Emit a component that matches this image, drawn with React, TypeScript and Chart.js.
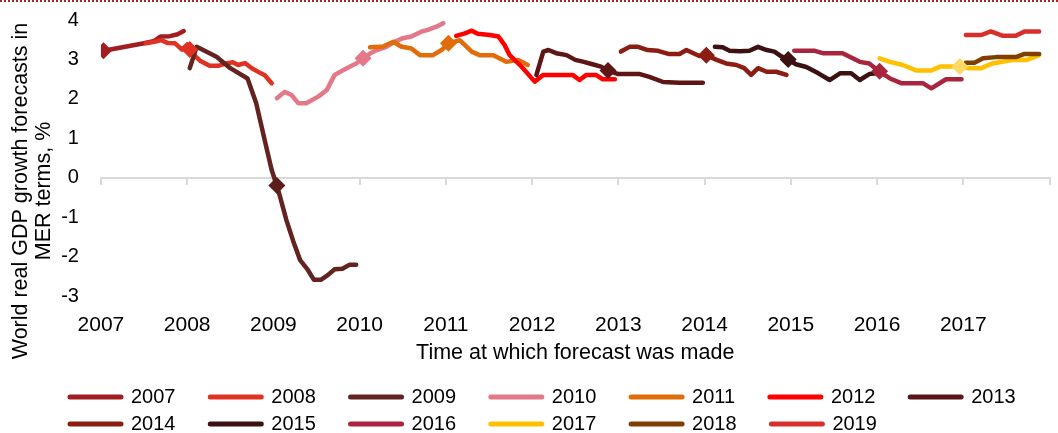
import React, { useEffect, useRef } from 'react';
import { Chart, registerables } from 'chart.js';

Chart.register(...registerables);

const seriesNames = ['2007', '2008', '2009', '2010', '2011', '2012', '2013', '2014', '2015', '2016', '2017', '2018', '2019'];
const seriesColors = ['#A21D21', '#E03222', '#632320', '#E27888', '#E06C0A', '#FF0000', '#5E1516', '#8B1D12', '#3B1211', '#A8243F', '#FFC000', '#7F3F00', '#D92F2C'];

const x2007 = [2007.03, 2007.5, 2007.62, 2007.69, 2007.8, 2007.89, 2007.96];
const y2007 = [3.22, 3.41, 3.47, 3.58, 3.59, 3.64, 3.72];

const x2008 = [2007.52, 2007.62, 2007.7, 2007.77, 2007.86, 2007.94, 2008.0, 2008.06, 2008.15, 2008.26, 2008.36, 2008.45, 2008.53, 2008.59, 2008.67, 2008.75, 2008.83, 2008.9, 2008.98];
const y2008 = [3.41, 3.45, 3.49, 3.42, 3.41, 3.25, 3.38, 3.15, 2.97, 2.84, 2.84, 2.9, 2.93, 2.86, 2.91, 2.78, 2.68, 2.6, 2.4];

const x2009 = [2008.03, 2008.11, 2008.22, 2008.34, 2008.5, 2008.7, 2008.8, 2008.9, 2008.98, 2009.04, 2009.08, 2009.15, 2009.23, 2009.31, 2009.4, 2009.47, 2009.55, 2009.63, 2009.71, 2009.8, 2009.88, 2009.96];
const y2009 = [2.78, 3.32, 3.2, 3.07, 2.78, 2.52, 1.9, 0.95, 0.2, -0.19, -0.5, -1.06, -1.6, -2.08, -2.33, -2.58, -2.58, -2.46, -2.31, -2.3, -2.2, -2.2];

const x2010 = [2009.04, 2009.13, 2009.21, 2009.29, 2009.38, 2009.52, 2009.62, 2009.71, 2009.85, 2009.96, 2010.04, 2010.12, 2010.2, 2010.31, 2010.41, 2010.5, 2010.6, 2010.72, 2010.79, 2010.89, 2010.97];
const y2010 = [2.02, 2.18, 2.1, 1.89, 1.89, 2.06, 2.23, 2.61, 2.78, 2.9, 3.03, 3.15, 3.24, 3.32, 3.45, 3.54, 3.58, 3.71, 3.75, 3.83, 3.92];

const x2011 = [2010.12, 2010.27, 2010.39, 2010.48, 2010.6, 2010.7, 2010.85, 2010.95, 2011.03, 2011.16, 2011.3, 2011.39, 2011.55, 2011.7, 2011.84, 2011.95];
const y2011 = [3.31, 3.33, 3.45, 3.33, 3.28, 3.11, 3.11, 3.24, 3.41, 3.49, 3.2, 3.11, 3.11, 2.94, 2.99, 2.86];

const x2012 = [2011.12, 2011.22, 2011.3, 2011.37, 2011.51, 2011.61, 2011.68, 2011.74, 2011.86, 2011.93, 2012.03, 2012.13, 2012.24, 2012.47, 2012.55, 2012.63, 2012.74, 2012.82, 2012.96];
const y2012 = [3.6, 3.66, 3.73, 3.65, 3.62, 3.58, 3.37, 3.11, 2.86, 2.69, 2.44, 2.61, 2.61, 2.61, 2.48, 2.61, 2.61, 2.5, 2.5];

const x2013 = [2012.05, 2012.13, 2012.19, 2012.28, 2012.4, 2012.5, 2012.6, 2012.7, 2012.8, 2012.88, 2013.0, 2013.25, 2013.36, 2013.52, 2013.71, 2013.98];
const y2013 = [2.61, 3.2, 3.24, 3.16, 3.11, 2.99, 2.94, 2.88, 2.82, 2.72, 2.63, 2.63, 2.56, 2.43, 2.41, 2.41];

const x2014 = [2013.03, 2013.13, 2013.23, 2013.34, 2013.46, 2013.58, 2013.71, 2013.79, 2013.87, 2013.94, 2014.02, 2014.14, 2014.25, 2014.37, 2014.46, 2014.54, 2014.62, 2014.72, 2014.83, 2014.95];
const y2014 = [3.2, 3.32, 3.32, 3.24, 3.22, 3.14, 3.14, 3.24, 3.16, 3.09, 3.11, 2.99, 2.9, 2.86, 2.78, 2.61, 2.78, 2.69, 2.69, 2.61];

const x2015 = [2014.12, 2014.21, 2014.29, 2014.41, 2014.52, 2014.62, 2014.72, 2014.81, 2014.89, 2014.97, 2015.06, 2015.18, 2015.32, 2015.45, 2015.57, 2015.7, 2015.8, 2015.91, 2015.99];
const y2015 = [3.32, 3.31, 3.22, 3.21, 3.22, 3.32, 3.24, 3.2, 3.08, 3.0, 2.88, 2.81, 2.65, 2.48, 2.65, 2.65, 2.48, 2.63, 2.65];

const x2016 = [2015.04, 2015.28, 2015.37, 2015.6, 2015.8, 2015.91, 2016.03, 2016.15, 2016.28, 2016.53, 2016.63, 2016.8, 2016.98];
const y2016 = [3.22, 3.22, 3.16, 3.16, 2.94, 2.9, 2.69, 2.52, 2.4, 2.4, 2.27, 2.5, 2.5];

const x2017 = [2016.03, 2016.15, 2016.3, 2016.46, 2016.63, 2016.73, 2016.88, 2016.96, 2017.07, 2017.21, 2017.34, 2017.58, 2017.74, 2017.88];
const y2017 = [3.03, 2.94, 2.86, 2.72, 2.72, 2.82, 2.82, 2.82, 2.78, 2.78, 2.9, 2.99, 2.99, 3.11];

const x2018 = [2017.03, 2017.13, 2017.23, 2017.38, 2017.61, 2017.71, 2017.88];
const y2018 = [2.92, 2.92, 3.03, 3.06, 3.06, 3.14, 3.14];

const x2019 = [2017.03, 2017.21, 2017.32, 2017.46, 2017.61, 2017.71, 2017.88];
const y2019 = [3.62, 3.62, 3.71, 3.6, 3.6, 3.71, 3.71];

const markerX = [2007.03, 2008.03, 2009.04, 2010.04, 2011.03, 2012.88, 2014.02, 2014.97, 2016.03, 2016.96];
const markerY = [3.22, 3.25, -0.19, 3.03, 3.41, 2.72, 3.11, 3.0, 2.7, 2.82];
const markerColors = ['#A21D21', '#E03222', '#5A1E1B', '#E27888', '#E06C0A', '#5E1516', '#8B1D12', '#3B1211', '#A8243F', '#FFD966'];

const xTickValues = [2007, 2008, 2009, 2010, 2011, 2012, 2013, 2014, 2015, 2016, 2017, 2018];
const xTickLabels = ['2007', '2008', '2009', '2010', '2011', '2012', '2013', '2014', '2015', '2016', '2017', ''];
const yTickValues = [-3, -2, -1, 0, 1, 2, 3, 4];

const yTitle = ['World real GDP growth forecasts in', 'MER terms, %'];
const xTitle = 'Time at which forecast was made';

const legendShift = {
  id: 'legendShift',
  afterLayout(chart: any) {
    const lg = chart.legend;
    if (!lg) return;
    lg.left += 57;
    lg.right += 57;
    lg.top += 18;
    lg.bottom += 18;
  },
};

export default function App() {
  const ref = useRef<HTMLCanvasElement>(null);

  useEffect(() => {
    if (!ref.current) return;
    Chart.defaults.font.family = '"Liberation Sans", Arial, sans-serif';
    Chart.defaults.color = '#000000';

    const seriesX = [x2007, x2008, x2009, x2010, x2011, x2012, x2013, x2014, x2015, x2016, x2017, x2018, x2019];
    const seriesY = [y2007, y2008, y2009, y2010, y2011, y2012, y2013, y2014, y2015, y2016, y2017, y2018, y2019];

    const datasets: any[] = seriesNames.map((name, i) => ({
      type: 'line',
      label: name,
      data: seriesX[i].map((x, j) => ({ x, y: seriesY[i][j] })),
      borderColor: seriesColors[i],
      backgroundColor: seriesColors[i],
      borderWidth: 4.5,
      pointRadius: 0,
      pointHoverRadius: 0,
      borderCapStyle: 'round',
      borderJoinStyle: 'round',
      tension: 0,
      fill: false,
      order: seriesNames.length - i,
    }));

    datasets.push({
      type: 'line',
      label: 'markers',
      data: markerX.map((x, j) => ({ x, y: markerY[j] })),
      showLine: false,
      pointStyle: 'rectRot',
      pointRadius: 8.5,
      pointHoverRadius: 8.5,
      pointBackgroundColor: markerColors,
      pointBorderColor: markerColors,
      pointBorderWidth: 0,
      order: -1,
    });

    const chart = new Chart(ref.current, {
      type: 'line',
      data: { datasets },
      plugins: [legendShift],
      options: {
        animation: false,
        responsive: false,
        devicePixelRatio: 1,
        events: [],
        layout: { padding: { left: 6, right: 8, top: 20, bottom: 7 } },
        plugins: {
          tooltip: { enabled: false },
          legend: {
            position: 'bottom',
            align: 'start',
            labels: {
              usePointStyle: true,
              pointStyleWidth: 51,
              boxWidth: 51,
              padding: 7,
              color: '#000000',
              font: { size: 20 },
              generateLabels: () =>
                seriesNames.map((name, i) => ({
                  text: name + '     ',
                  fillStyle: seriesColors[i],
                  strokeStyle: seriesColors[i],
                  lineWidth: 5,
                  lineCap: 'round',
                  pointStyle: 'line',
                  hidden: false,
                  datasetIndex: i,
                  fontColor: '#000000',
                })),
            },
          },
        },
        scales: {
          x: {
            type: 'linear',
            position: { y: -3.4 } as any,
            min: 2007,
            max: 2018,
            afterBuildTicks: (scale: any) => {
              scale.ticks = xTickValues.map((v) => ({ value: v }));
            },
            ticks: {
              autoSkip: false,
              maxRotation: 0,
              padding: 0,
              font: { size: 21 },
              color: '#000000',
              callback: (_v: any, i: number) => xTickLabels[i],
            },
            grid: { display: false, drawTicks: false },
            border: { display: false },
            title: {
              display: true,
              text: xTitle,
              font: { size: 21.5 },
              color: '#000000',
              padding: { top: 3, bottom: 0 },
            },
          },
          x0: {
            type: 'linear',
            axis: 'x',
            position: { y: 0 } as any,
            min: 2007,
            max: 2018,
            afterBuildTicks: (scale: any) => {
              scale.ticks = xTickValues.map((v) => ({ value: v }));
            },
            ticks: { display: false },
            grid: {
              display: true,
              drawOnChartArea: false,
              drawTicks: true,
              tickLength: 6,
              color: '#D9D9D9',
              lineWidth: 2,
            },
            border: { display: true, color: '#D9D9D9', width: 2 },
          },
          y: {
            type: 'linear',
            position: 'left',
            min: -4.66,
            max: 4,
            afterBuildTicks: (scale: any) => {
              scale.ticks = yTickValues.map((v) => ({ value: v }));
            },
            ticks: {
              padding: 0,
              font: { size: 20 },
              color: '#000000',
              callback: (v: any) => String(v),
            },
            grid: {
              display: true,
              drawOnChartArea: false,
              drawTicks: true,
              tickLength: 22,
              color: 'rgba(0,0,0,0)',
            },
            border: { display: false },
            title: {
              display: true,
              text: yTitle,
              font: { size: 21.5, lineHeight: 1.05 },
              color: '#000000',
              padding: { top: 4, bottom: 6 },
            },
          },
        },
      } as any,
    });

    return () => chart.destroy();
  }, []);

  return (
    <div style={{ position: 'absolute', left: 0, top: 0, width: 1058, height: 433, background: '#ffffff' }}>
      <canvas ref={ref} width={1058} height={433} style={{ display: 'block', width: 1058, height: 433 }} />
      <div
        style={{
          position: 'absolute',
          left: 0,
          top: 0,
          width: 1058,
          height: 0,
          zIndex: 2,
          borderTop: '2px dotted #A5282A',
        }}
      />
    </div>
  );
}
